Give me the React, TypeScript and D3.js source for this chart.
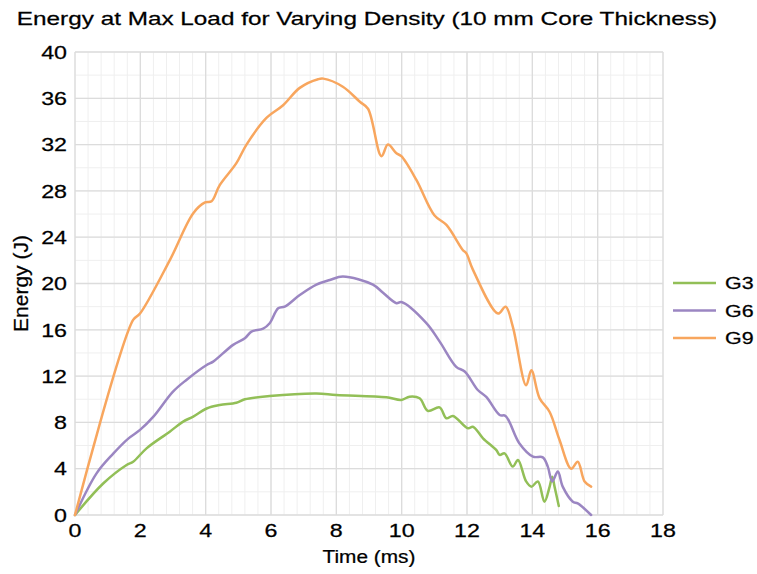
import React, { useEffect, useRef } from 'react';
import * as d3 from 'd3';

const seriesNames = ['G3', 'G6', 'G9'];
const seriesColors = ['#92bf57', '#9b86c2', '#f8a65e'];

// [time (ms), energy (J)]
const g3: [number, number][] = [
  [0, 0], [0.87, 2.74], [1.58, 4.32], [1.78, 4.6], [2.19, 5.76], [2.9, 7.2], [3.31, 8.07],
  [3.62, 8.5], [4.03, 9.2], [4.43, 9.5], [4.94, 9.7], [5.2, 10.0], [5.96, 10.28], [7.39, 10.5],
  [8.0, 10.37], [9.53, 10.17], [9.99, 9.94], [10.24, 10.22], [10.55, 10.08], [10.8, 9.0],
  [11.16, 9.3], [11.37, 8.36], [11.57, 8.56], [12.03, 7.49], [12.18, 7.63], [12.49, 6.63],
  [12.9, 5.6], [13.0, 5.19], [13.15, 5.33], [13.4, 4.18], [13.56, 4.75], [13.81, 2.9],
  [13.97, 2.45], [14.17, 2.9], [14.37, 1.15], [14.53, 2.45], [14.61, 3.3], [14.68, 2.45],
  [14.81, 0.78],
];

const g6: [number, number][] = [
  [0, 0], [0.66, 3.6], [1.17, 5.3], [1.63, 6.6], [1.99, 7.35], [2.4, 8.5], [3.0, 10.66],
  [3.41, 11.67], [4.03, 12.96], [4.23, 13.25], [4.84, 14.7], [5.2, 15.27], [5.4, 15.84],
  [5.76, 16.1], [5.96, 16.57], [6.22, 17.86], [6.42, 18.0], [6.88, 19.0], [7.39, 19.9],
  [7.8, 20.3], [8.2, 20.6], [9.12, 19.9], [9.43, 19.2], [9.84, 18.3], [9.99, 18.4],
  [10.75, 16.6], [11.16, 15.0], [11.67, 12.8], [11.93, 12.4], [12.33, 10.8], [12.59, 10.2],
  [13.0, 8.64], [13.18, 8.56], [13.6, 6.2], [14.02, 5.04], [14.32, 4.98], [14.47, 4.2],
  [14.61, 2.9], [14.78, 3.75], [14.93, 2.45], [15.24, 1.15], [15.39, 1.0], [15.8, 0],
];

const g9: [number, number][] = [
  [0, 0], [1.78, 16.85], [1.99, 17.4], [2.9, 22.0], [3.62, 26.07], [3.98, 27.0], [4.18, 27.1],
  [4.43, 28.5], [4.94, 30.4], [5.25, 32.0], [5.86, 34.3], [6.37, 35.4], [6.88, 36.9],
  [7.44, 37.65], [7.6, 37.7], [8.2, 37.0], [8.72, 35.7], [8.97, 35.1], [9.38, 31.0],
  [9.58, 32.0], [9.84, 31.25], [9.99, 31.0], [10.45, 28.95], [11.0, 25.9], [11.37, 25.06],
  [11.87, 22.9], [11.98, 22.6], [12.18, 21.2], [12.95, 17.4], [13.18, 18.0], [13.4, 16.3],
  [13.81, 11.2], [13.97, 12.5], [14.22, 10.1], [14.53, 8.9], [14.83, 6.5], [15.19, 4.0],
  [15.39, 4.6], [15.6, 2.9], [15.8, 2.45],
];

const seriesData = [g3, g6, g9];
const xTicks = [0, 2, 4, 6, 8, 10, 12, 14, 16, 18];
const yTicks = [0, 4, 8, 12, 16, 20, 24, 28, 32, 36, 40];

const App: React.FC = () => {
  const svgRef = useRef<SVGSVGElement>(null);

  useEffect(() => {
    if (!svgRef.current) return;
    const svg = d3.select(svgRef.current);
    svg.selectAll('*').remove();

    const left = 75, right = 663, top = 52, bottom = 515;
    const x = d3.scaleLinear().domain([0, 18]).range([left, right]);
    const y = d3.scaleLinear().domain([0, 40]).range([bottom, top]);
    const font = 'Liberation Sans, Arial, sans-serif';

    // text looks horizontally stretched in the reference
    const label = (tx: number, ty: number, s: string, size: number, anchor: string, sx = 1.25) =>
      svg.append('text')
        .attr('transform', `translate(${tx},${ty}) scale(${sx},1)`)
        .attr('text-anchor', anchor)
        .attr('font-family', font).attr('font-size', size).attr('fill', '#000')
        .attr('stroke', '#000').attr('stroke-width', 0.25)
        .text(s);

    // minor grid
    const g = svg.append('g');
    d3.range(0, 18.001, 0.4).forEach(v => {
      g.append('line').attr('x1', x(v)).attr('x2', x(v)).attr('y1', top).attr('y2', bottom)
        .attr('stroke', '#efefef').attr('stroke-width', 1);
    });
    d3.range(0, 40.001, 2).forEach(v => {
      g.append('line').attr('x1', left).attr('x2', right).attr('y1', y(v)).attr('y2', y(v))
        .attr('stroke', '#efefef').attr('stroke-width', 1);
    });
    // major grid
    xTicks.forEach(v => {
      g.append('line').attr('x1', x(v)).attr('x2', x(v)).attr('y1', top).attr('y2', bottom)
        .attr('stroke', '#dcdcdc').attr('stroke-width', 1.3);
    });
    yTicks.forEach(v => {
      g.append('line').attr('x1', left).attr('x2', right).attr('y1', y(v)).attr('y2', y(v))
        .attr('stroke', '#dcdcdc').attr('stroke-width', 1.3);
    });

    // tick labels
    xTicks.forEach(v => label(x(v), bottom + 22, String(v), 18.6, 'middle'));
    yTicks.forEach(v => label(left - 8, y(v) + 6.7, String(v), 18.6, 'end'));

    // lines
    const line = d3.line<[number, number]>()
      .x(d => x(d[0])).y(d => y(d[1]))
      .curve(d3.curveCatmullRom.alpha(0.5));
    seriesData.forEach((data, i) => {
      svg.append('path').attr('d', line(data) as string).attr('fill', 'none')
        .attr('stroke', seriesColors[i]).attr('stroke-width', 2.5)
        .attr('stroke-linejoin', 'round').attr('stroke-linecap', 'round');
    });

    // title and axis titles
    label(367, 25, 'Energy at Max Load for Varying Density (10 mm Core Thickness)', 19, 'middle', 1.28);
    label(369, 563, 'Time (ms)', 18.6, 'middle', 1.12);
    svg.append('text').attr('transform', `translate(28, ${(top + bottom) / 2}) rotate(-90)`)
      .attr('text-anchor', 'middle').attr('font-family', font).attr('font-size', 21)
      .attr('fill', '#000').attr('stroke', '#000').attr('stroke-width', 0.25).text('Energy (J)');

    // legend
    const legendY = [283, 310.5, 338];
    seriesNames.forEach((name, i) => {
      svg.append('line').attr('x1', 673).attr('x2', 716).attr('y1', legendY[i]).attr('y2', legendY[i])
        .attr('stroke', seriesColors[i]).attr('stroke-width', 2.5);
      label(725, legendY[i] + 6, name, 16.5, 'start', 1.3);
    });
  }, []);

  return (
    <svg ref={svgRef} width={757} height={574}
      style={{ position: 'absolute', left: 0, top: 0, background: '#fff' }} />
  );
};

export default App;
